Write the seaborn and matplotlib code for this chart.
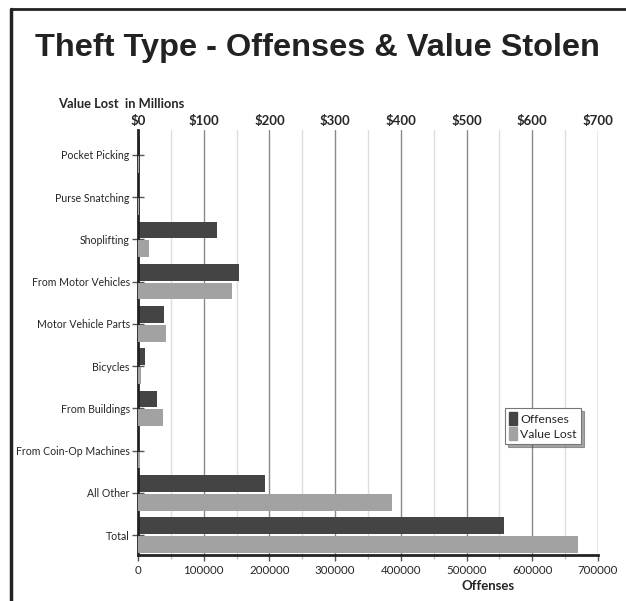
import numpy as np
import pandas as pd
import matplotlib
matplotlib.use("Agg")
import matplotlib.pyplot as plt
from matplotlib.lines import Line2D
from matplotlib.ticker import MultipleLocator, FuncFormatter
import seaborn as sns

categories = ["Pocket Picking", "Purse Snatching", "Shoplifting", "From Motor Vehicles",
              "Motor Vehicle Parts", "Bicycles", "From Buildings", "From Coin-Op Machines",
              "All Other", "Total"]
offenses = [3000, 2000, 120000, 154000, 39000, 11000, 29000, 2000, 194000, 557000]
value_lost = [1, 1, 17, 143, 42, 5, 38, 3, 387, 669]  # millions of dollars

series = ["Offenses", "Value Lost"]
colors = {"Offenses": "#444444", "Value Lost": "#a2a2a2"}

df = pd.concat([
    pd.DataFrame({"category": categories, "value": offenses, "series": "Offenses"}),
    pd.DataFrame({"category": categories, "value": value_lost, "series": "Value Lost"}),
])

sns.set_theme(style="white")
plt.rcParams["font.family"] = ["Lato", "DejaVu Sans"]

fig = plt.figure(figsize=(6.26, 6.01), dpi=100)
ax = fig.add_axes([138 / 626, 1 - 555 / 601, 460 / 626, 425 / 601])
ax2 = ax.twiny()

sns.barplot(data=df[df.series == "Offenses"], x="value", y="category", hue="series",
            hue_order=series, palette=colors, order=categories, orient="h", dodge=True,
            width=0.88, gap=0.1, ax=ax, legend=False, errorbar=None, linewidth=0)
sns.barplot(data=df[df.series == "Value Lost"], x="value", y="category", hue="series",
            hue_order=series, palette=colors, order=categories, orient="h", dodge=True,
            width=0.88, gap=0.1, ax=ax2, legend=False, errorbar=None, linewidth=0)

ax.set_xlim(0, 700000)
ax2.set_xlim(0, 700)
ax.set_ylim(9.47, -0.59)

# grid lines
for v in range(50000, 700001, 50000):
    major = v % 100000 == 0
    ax.axvline(v, color="#8a8a8a" if major else "#dddddd", lw=1, zorder=0)
ax.set_axisbelow(True)

ax.xaxis.set_major_locator(MultipleLocator(100000))
ax.xaxis.set_minor_locator(MultipleLocator(50000))
ax.xaxis.set_major_formatter(FuncFormatter(lambda v, p: f"{int(v)}"))
ax.tick_params(axis="x", which="major", direction="out", length=4, width=1, color="#555555",
               labelsize=8.3, pad=3, bottom=True)
ax.tick_params(axis="x", which="minor", direction="out", length=3, width=1, color="#bbbbbb",
               bottom=True)
ax.tick_params(axis="y", direction="inout", length=8, width=1, color="#555555",
               labelsize=7.6, pad=2, left=True)

ax2.xaxis.set_major_locator(MultipleLocator(100))
ax2.xaxis.set_major_formatter(FuncFormatter(lambda v, p: f"${int(v)}"))
ax2.tick_params(axis="x", length=0, labelsize=9.5, pad=2)
for t in ax2.get_xticklabels():
    t.set_fontweight("bold")

for a in (ax, ax2):
    for s in ("top", "right"):
        a.spines[s].set_visible(False)
ax.spines["left"].set_linewidth(2)
ax.spines["bottom"].set_linewidth(2)
ax.spines["left"].set_color("#222222")
ax.spines["bottom"].set_color("#222222")
ax2.spines["left"].set_visible(False)
ax2.spines["bottom"].set_visible(False)

ax.set_ylabel("")
ax2.set_xlabel("")
ax.set_xlabel("Offenses", fontsize=9.5, fontweight="bold", labelpad=3)
ax.xaxis.set_label_coords(0.76, -0.06)

fig.text(58 / 626, 1 - 104 / 601, "Value Lost  in Millions", fontsize=9.3, fontweight="bold",
         va="center", ha="left")
fig.text(317 / 626, 1 - 48 / 601, "Theft Type - Offenses & Value Stolen", fontsize=23.4,
         fontweight="bold", ha="center", va="center", family="Liberation Sans", color="#222222")

# legend
handles = [plt.Rectangle((0, 0), 1, 1, color=colors[s]) for s in series]
leg = ax.legend(handles, series, loc="upper left", bbox_to_anchor=(505 / 626, 1 - 408 / 601),
                bbox_transform=fig.transFigure, fontsize=8.8, frameon=True, fancybox=False,
                shadow=True, handlelength=0.6, handleheight=1.2, handletextpad=0.3,
                borderpad=0.35, labelspacing=0.2, borderaxespad=0)
leg.get_frame().set_edgecolor("#777777")
leg.get_frame().set_linewidth(0.8)

# page frame
fig.add_artist(Line2D([10.5 / 626, 1], [1 - 9 / 601, 1 - 9 / 601], color="#222222", lw=2,
                      transform=fig.transFigure))
fig.add_artist(Line2D([10.5 / 626, 10.5 / 626], [0, 1 - 9 / 601], color="#222222", lw=2.5,
                      transform=fig.transFigure))

fig.savefig("out.png", dpi=100)
